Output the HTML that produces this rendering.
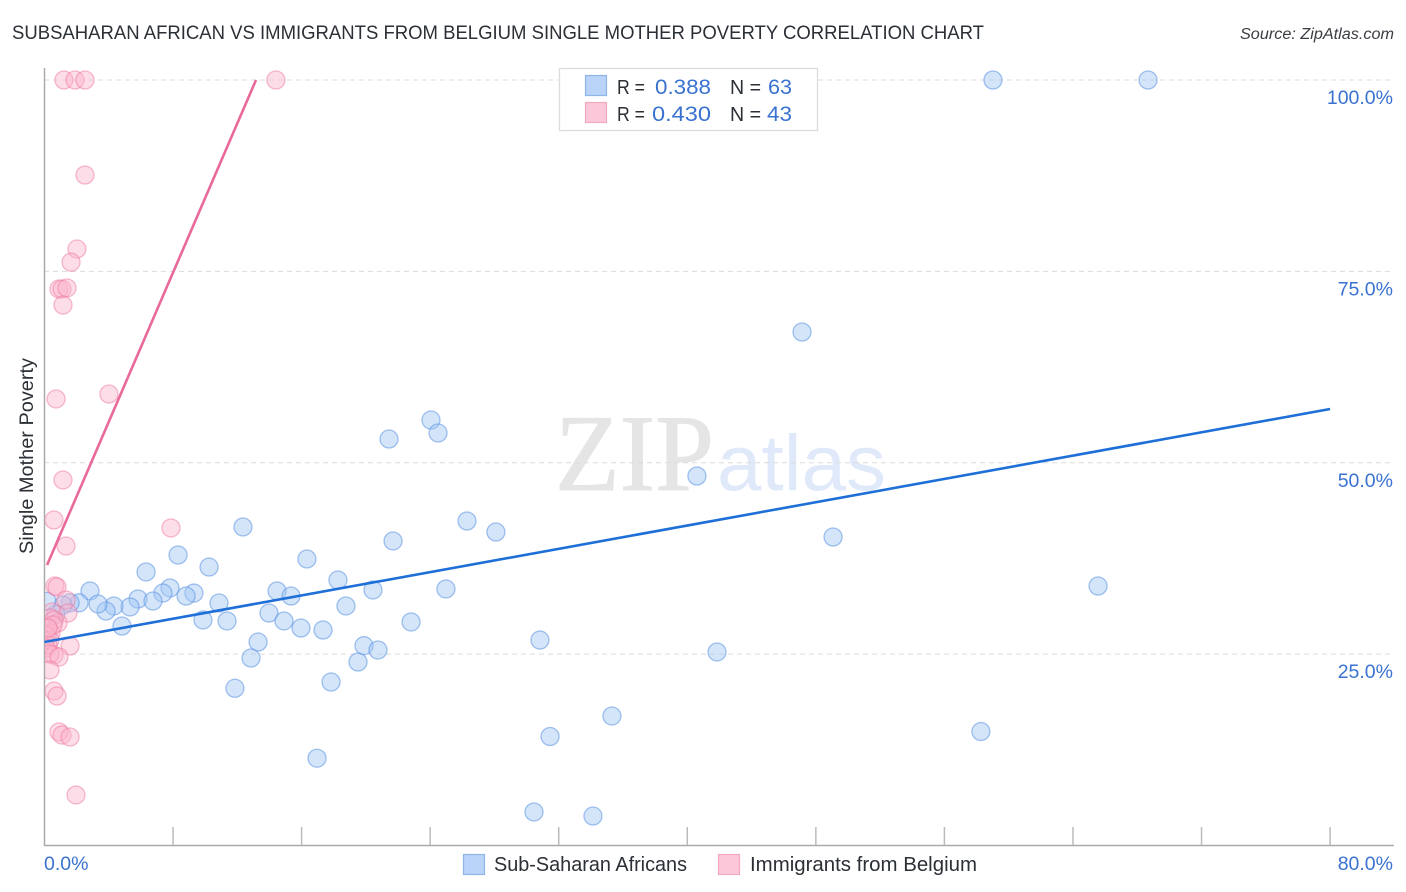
<!DOCTYPE html>
<html>
<head>
<meta charset="utf-8">
<style>
html,body{margin:0;padding:0;background:#fff;width:1406px;height:892px;overflow:hidden}
svg{display:block;font-family:"Liberation Sans",sans-serif}
</style>
</head>
<body>
<svg id="chart" width="1406" height="892" viewBox="0 0 1406 892" xmlns="http://www.w3.org/2000/svg">
<defs><clipPath id="plot-clip"><rect x="45" y="60" width="1349" height="785"/></clipPath></defs>
<rect x="0" y="0" width="1406" height="892" fill="#fff"/>
<text x="12" y="39" font-size="19.5" fill="#2b2f36" textLength="972" lengthAdjust="spacingAndGlyphs">SUBSAHARAN AFRICAN VS IMMIGRANTS FROM BELGIUM SINGLE MOTHER POVERTY CORRELATION CHART</text>
<text x="1394" y="39" font-size="15.5" font-style="italic" fill="#3a3d44" text-anchor="end" textLength="154" lengthAdjust="spacingAndGlyphs">Source: ZipAtlas.com</text>
<g id="watermark">
<text x="555" y="490" font-family="'Liberation Serif',serif" font-size="109" fill="#e5e5e5" stroke="#e5e5e5" stroke-width="1" textLength="159" lengthAdjust="spacingAndGlyphs">ZIP</text>
<text x="717" y="490" font-size="79" fill="#dfe9fa" textLength="169" lengthAdjust="spacingAndGlyphs">atlas</text>
</g>
<g id="grid"></g>
<g id="axes"></g>
<g id="marks" clip-path="url(#plot-clip)"></g>
<g id="fits"></g>
<g id="tick-labels"></g>
<text transform="translate(33,456) rotate(-90)" font-size="19" fill="#2b2f36" text-anchor="middle" textLength="196" lengthAdjust="spacingAndGlyphs">Single Mother Poverty</text>
<g id="stats-legend">
<rect x="559.5" y="68.5" width="258" height="62" fill="#fff" stroke="#dcdcdc" stroke-width="1.3"/>
<rect x="585.5" y="75.5" width="21" height="20" fill="#b9d4f8" stroke="#8fb4e6" stroke-width="1.2"/>
<rect x="585.5" y="102.5" width="21" height="20" fill="#fcc8d9" stroke="#f3a8c0" stroke-width="1.2"/>
<g font-size="20" fill="#2b2f36">
<text x="617" y="94" textLength="28" lengthAdjust="spacingAndGlyphs">R =</text>
<text x="730" y="94" textLength="31" lengthAdjust="spacingAndGlyphs">N =</text>
<text x="617" y="121" textLength="28" lengthAdjust="spacingAndGlyphs">R =</text>
<text x="730" y="121" textLength="31" lengthAdjust="spacingAndGlyphs">N =</text>
</g>
<g font-size="21" fill="#3a72d0">
<text x="655" y="94" textLength="56" lengthAdjust="spacingAndGlyphs">0.388</text>
<text x="768" y="94" textLength="24" lengthAdjust="spacingAndGlyphs">63</text>
<text x="652" y="121" textLength="59" lengthAdjust="spacingAndGlyphs">0.430</text>
<text x="767" y="121" textLength="25" lengthAdjust="spacingAndGlyphs">43</text>
</g>
</g>
<g id="bottom-legend">
<rect x="463.5" y="854.5" width="21" height="20" fill="#b9d4f8" stroke="#8fb4e6" stroke-width="1.2"/>
<text x="494" y="871" font-size="20" fill="#2b2f36" textLength="193" lengthAdjust="spacingAndGlyphs">Sub-Saharan Africans</text>
<rect x="718.5" y="854.5" width="21" height="20" fill="#fcc8d9" stroke="#f3a8c0" stroke-width="1.2"/>
<text x="750" y="871" font-size="20" fill="#2b2f36" textLength="227" lengthAdjust="spacingAndGlyphs">Immigrants from Belgium</text>
</g>
</svg>
<script>
const blueX = [59.02,68.67,47.14,24.05,24.49,21.44,40.60,26.29,28.09,49.07,12.35,21.69,8.31,16.33,10.24,6.32,18.26,65.56,2.83,7.81,7.37,9.30,8.81,14.47,15.34,20.44,24.98,5.82,6.75,10.86,5.32,4.32,3.83,3.33,2.15,1.59,1.15,0.70,0.15,18.76,13.97,9.86,11.36,14.90,22.81,15.96,17.33,4.82,13.29,30.83,19.88,20.75,41.85,12.85,19.51,11.85,17.83,35.31,58.27,31.46,16.96,30.46,34.13];
const blueY = [100,100,67.08,55.58,53.89,53.10,48.27,42.39,40.95,40.30,41.61,39.78,37.95,37.43,36.38,35.73,34.68,33.90,33.25,33.64,32.98,32.98,32.59,33.25,32.59,33.38,33.51,32.20,31.94,31.68,31.16,31.29,30.63,31.55,31.70,31.70,31.40,30.20,31.90,31.29,30.37,29.46,29.33,29.33,29.20,28.41,28.15,28.67,26.58,26.84,26.10,25.54,25.28,24.49,23.97,20.54,21.36,16.92,14.89,14.24,11.40,4.38,3.85];
const pinkX = [1.21,1.90,2.52,14.40,2.52,2.02,1.65,0.90,1.09,1.40,1.15,4.01,0.72,1.15,0.59,7.87,1.34,0.65,0.78,1.34,0.47,1.46,0.34,0.84,0.59,0.40,0.16,0.34,0.22,1.59,0.09,0.59,0.34,0.90,0.34,0.59,0.78,0.90,1.09,1.59,1.96,0.53,0.22];
const pinkY = [100,100,100,100,87.59,77.92,76.20,72.70,72.70,72.83,70.60,58.98,58.33,47.75,42.52,41.48,39.12,33.90,33.77,32.07,30.50,30.37,29.72,29.07,29.46,27.76,27.37,26.84,26.19,26.06,25.80,24.89,25.02,24.62,22.93,20.18,19.53,14.83,14.43,14.17,6.60,28.80,28.41];
const blueFitX = [0,80];
const blueFitY = [26.58,57.02];
const pinkFitX = [0.16,13.16];
const pinkFitY = [36.64,100];
const yTicks = [25,50,75,100];
const yTickLabels = ["25.0%","50.0%","75.0%","100.0%"];
const xTicks = [0,8,16,24,32,40,48,56,64,72,80];
const xEndTickLabels = ["0.0%","80.0%"];

const NS = "http://www.w3.org/2000/svg";
const xScale = v => 44.5 + v * 16.07;
const yScale = v => 845.5 - v * 7.655;
function mk(tag, parent, attrs) {
  const el = document.createElementNS(NS, tag);
  for (const k in attrs) el.setAttribute(k, attrs[k]);
  document.getElementById(parent).appendChild(el);
  return el;
}
yTicks.forEach((t, i) => {
  const g = mk("line", "grid", {x1:44, x2:1394, y1:yScale(t), y2:yScale(t), stroke:"#dcdcdc", "stroke-width":1, "stroke-dasharray":"5 4"});
  
  
  const l = mk("text", "tick-labels", {x:1393, y:yScale(t) + 24, "font-size":19.5, fill:"#3a72d0", "text-anchor":"end"});
  
  
  l.textContent = yTickLabels[i];
});
const yAxis = mk("line", "axes", {x1:44.5, x2:44.5, y1:68, y2:846, stroke:"#aaa", "stroke-width":1.5});


const xAxis = mk("line", "axes", {x1:44, x2:1394, y1:845.5, y2:845.5, stroke:"#aaa", "stroke-width":1.5});


xTicks.slice(1).forEach(t => {
  const k = mk("line", "axes", {x1:xScale(t), x2:xScale(t), y1:827, y2:845, stroke:"#bbb", "stroke-width":1.5});
  
  
});
const x0 = mk("text", "tick-labels", {x:44, y:870, "font-size":19.5, fill:"#3a72d0"});


x0.textContent = xEndTickLabels[0];
const x1 = mk("text", "tick-labels", {x:1393, y:870, "font-size":19.5, fill:"#3a72d0", "text-anchor":"end"});


x1.textContent = xEndTickLabels[1];

blueX.forEach((v, i) => {
  const c = mk("circle", "marks", {cx:xScale(v), cy:yScale(blueY[i]), r:9, fill:"rgba(160,197,245,0.45)", stroke:"rgba(90,145,225,0.55)", "stroke-width":1.3});
  
  
});
pinkX.forEach((v, i) => {
  const c = mk("circle", "marks", {cx:xScale(v), cy:yScale(pinkY[i]), r:9, fill:"rgba(250,180,203,0.45)", stroke:"rgba(238,120,160,0.5)", "stroke-width":1.3});
  
  
});
const blueLine = mk("line", "fits", {x1:xScale(blueFitX[0]), y1:yScale(blueFitY[0]), x2:xScale(blueFitX[1]), y2:yScale(blueFitY[1]), stroke:"#1f6fd8", "stroke-width":2.6});


const pinkLine = mk("line", "fits", {x1:xScale(pinkFitX[0]), y1:yScale(pinkFitY[0]), x2:xScale(pinkFitX[1]), y2:yScale(pinkFitY[1]), stroke:"#e8699a", "stroke-width":2.6});


</script>
</body>
</html>
